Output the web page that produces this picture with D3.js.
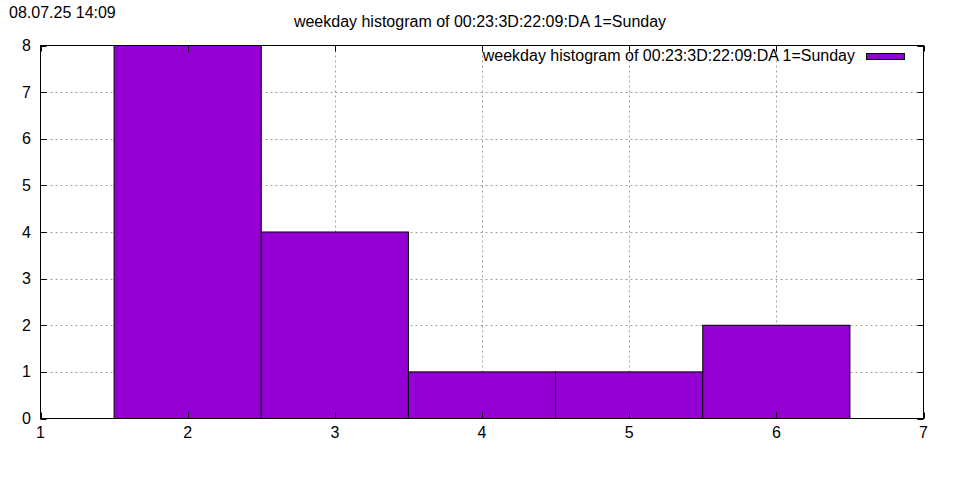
<!DOCTYPE html>
<html><head><meta charset="utf-8">
<script src="https://cdn.jsdelivr.net/npm/d3@7"></script>
<style>body{margin:0;background:#fff}svg{display:block}text{font-family:"Liberation Sans",Arial,sans-serif;font-size:16px;fill:#000}</style>
</head><body><svg id="c" width="960" height="480"></svg>
<script>
const weekdays = [2, 3, 4, 5, 6];
const counts = [8, 4, 1, 1, 2];
const xTicks = [1, 2, 3, 4, 5, 6, 7];
const yTicks = [0, 1, 2, 3, 4, 5, 6, 7, 8];
const title = "weekday histogram of 00:23:3D:22:09:DA 1=Sunday";
const stamp = "08.07.25 14:09";

const svg = d3.select("#c");
const L = 40.5, R = 923.5, T = 45.5, B = 418.5;
const x = d3.scaleLinear().domain([1, 7]).range([L, R]);
const y = d3.scaleLinear().domain([0, 8]).range([B, T]);
const color = "#9400d3";

svg.append("rect").attr("width", 960).attr("height", 480).attr("fill", "#fff");

// grid
const g = svg.append("g").attr("stroke", "#a0a0a0").attr("stroke-dasharray", "2,3").attr("stroke-width", 1);
xTicks.slice(1, -1).forEach(t => g.append("line").attr("x1", Math.round(x(t)) + 0.5).attr("x2", Math.round(x(t)) + 0.5).attr("y1", T).attr("y2", B));
yTicks.slice(1, -1).forEach(t => g.append("line").attr("y1", Math.round(y(t)) + 0.5).attr("y2", Math.round(y(t)) + 0.5).attr("x1", L).attr("x2", R));

// bars
svg.append("g").selectAll("rect").data(weekdays).join("rect")
  .attr("x", d => x(d - 0.5))
  .attr("width", d => x(d + 0.5) - x(d - 0.5))
  .attr("y", (d, i) => y(counts[i]))
  .attr("height", (d, i) => y(0) - y(counts[i]))
  .attr("fill", color).attr("stroke", "#000").attr("stroke-width", 1);

// border
svg.append("rect").attr("x", L).attr("y", T).attr("width", R - L).attr("height", B - T)
  .attr("fill", "none").attr("stroke", "#000").attr("stroke-width", 1);

// ticks (inward, mirrored)
const tk = svg.append("g").attr("stroke", "#000").attr("stroke-width", 1);
yTicks.forEach(t => {
  const yy = Math.round(y(t)) + 0.5;
  tk.append("line").attr("x1", L).attr("x2", L + 6).attr("y1", yy).attr("y2", yy);
  tk.append("line").attr("x1", R).attr("x2", R - 6).attr("y1", yy).attr("y2", yy);
});
xTicks.forEach(t => {
  const xx = Math.round(x(t)) + 0.5;
  tk.append("line").attr("y1", B).attr("y2", B - 6).attr("x1", xx).attr("x2", xx);
  tk.append("line").attr("y1", T).attr("y2", T + 6).attr("x1", xx).attr("x2", xx);
});

// tick labels
svg.append("g").selectAll("text").data(yTicks).join("text")
  .attr("x", 31).attr("y", d => y(d) + 5.5).attr("text-anchor", "end").text(d => d);
svg.append("g").selectAll("text").data(xTicks).join("text")
  .attr("x", d => x(d)).attr("y", B + 19).attr("text-anchor", "middle").text(d => d);

// titles
svg.append("text").attr("x", 9).attr("y", 18).text(stamp);
svg.append("text").attr("x", 480).attr("y", 27).attr("text-anchor", "middle").text(title);

// legend
svg.append("text").attr("x", 855).attr("y", 61).attr("text-anchor", "end").text(title);
svg.append("rect").attr("x", 866.5).attr("y", 53.5).attr("width", 38).attr("height", 6)
  .attr("fill", color).attr("stroke", "#000").attr("stroke-width", 1);
</script></body></html>
